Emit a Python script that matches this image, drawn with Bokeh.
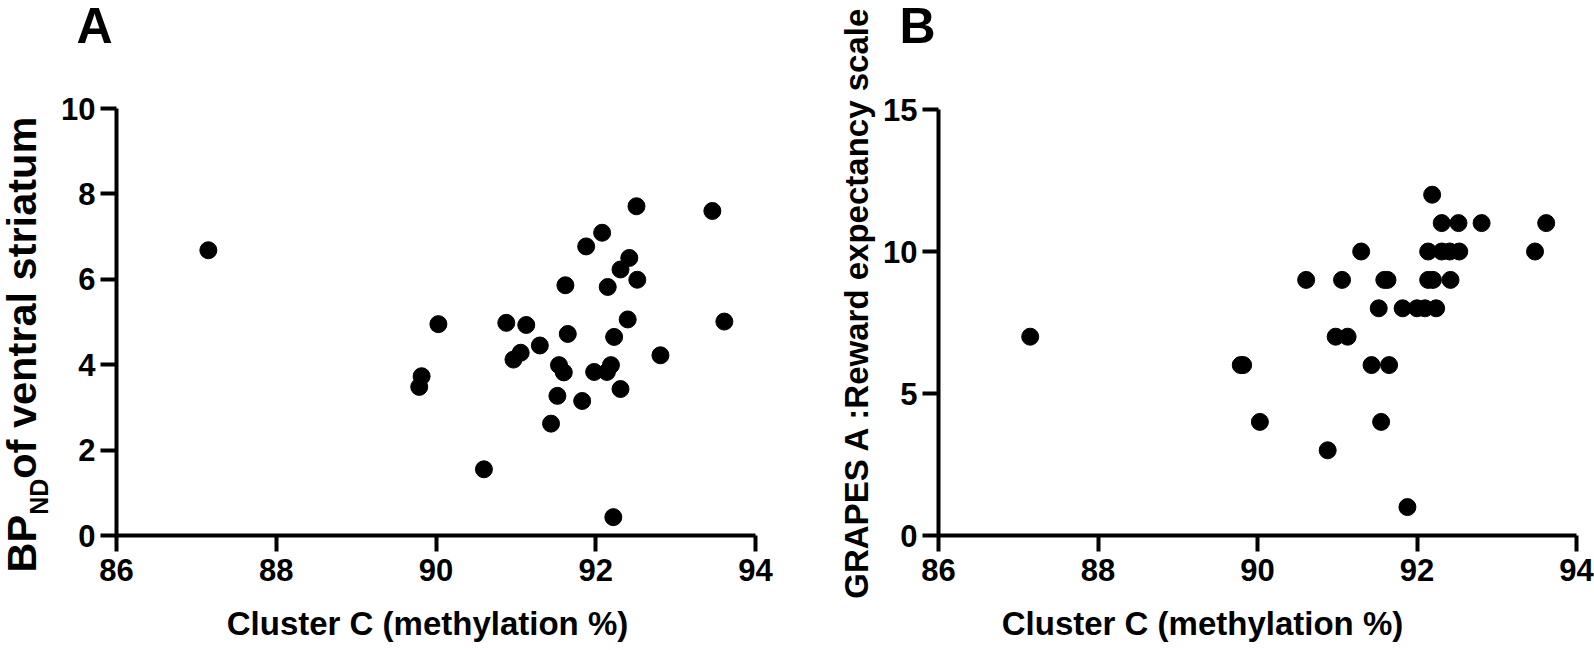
import math
from bokeh.plotting import figure
from bokeh.models import Range1d, Label, FixedTicker
from bokeh.layouts import row, column
from bokeh.embed import file_html
from bokeh.resources import INLINE

# ---------------- data ----------------
x_ticks = [86, 88, 90, 92, 94]
a_y_ticks = [0, 2, 4, 6, 8, 10]
b_y_ticks = [0, 5, 10, 15]

x_title = "Cluster C (methylation %)"
a_title_main = "BP"
a_title_sub = "ND"
a_title_rest = " of ventral striatum"
b_title = "GRAPES A :Reward expectancy scale"

# Panel A: Cluster C methylation (%) vs BP_ND of ventral striatum
methyl_a = [87.15, 89.79, 89.82, 90.03, 90.60, 90.88, 90.97, 91.06, 91.13, 91.30,
            91.44, 91.52, 91.54, 91.60, 91.62, 91.65, 91.83, 91.88, 91.98, 92.08,
            92.14, 92.15, 92.19, 92.22, 92.23, 92.31, 92.31, 92.40, 92.42, 92.51,
            92.52, 92.81, 93.46, 93.61]
bp_nd = [6.68, 3.48, 3.73, 4.95, 1.55, 4.98, 4.12, 4.28, 4.93, 4.45,
         2.62, 3.27, 3.99, 3.82, 5.86, 4.72, 3.15, 6.77, 3.83, 7.09,
         3.83, 5.82, 3.99, 0.43, 4.65, 6.23, 3.43, 5.06, 6.50, 7.71,
         5.99, 4.22, 7.60, 5.01]

# Panel B: Cluster C methylation (%) vs GRAPES A reward expectancy scale
methyl_b = [87.15, 89.79, 89.82, 90.03, 90.61, 90.88, 90.98, 91.06, 91.13, 91.30,
            91.43, 91.52, 91.55, 91.59, 91.63, 91.65, 91.82, 91.88, 92.00, 92.10,
            92.14, 92.14, 92.19, 92.20, 92.24, 92.31, 92.31, 92.41, 92.42, 92.52,
            92.53, 92.81, 93.48, 93.62]
grapes_a = [7, 6, 6, 4, 9, 3, 7, 9, 7, 10,
            6, 8, 4, 9, 9, 6, 8, 1, 8, 8,
            10, 9, 12, 9, 8, 10, 11, 10, 9, 11,
            10, 11, 10, 11]

FONT = "Liberation Sans"
H = 650
SHIFT = 0.38  # empirical baseline offset of rendered labels (fraction of font size)


def text_fig(w, h):
    f = figure(width=w, height=h, x_range=Range1d(0, w), y_range=Range1d(0, h),
               x_axis_type=None, y_axis_type=None, output_backend="svg",
               toolbar_location=None, min_border=0, min_border_left=0,
               min_border_right=0, min_border_top=0, min_border_bottom=0,
               frame_align=False)
    f.outline_line_color = None
    f.background_fill_color = "white"
    f.border_fill_color = "white"
    return f


def lab(p, text, x, y, size, angle=0.0, align="left"):
    # compensate the renderer's baseline offset so that (x, y) is the baseline point
    if angle == 0.0:
        y = y + SHIFT * size
    else:
        x = x - SHIFT * size
    p.add_layout(Label(x=x, y=y, text=text, text_font=FONT, text_font_style="bold",
                       text_font_size=f"{size}px", text_color="black", angle=angle,
                       text_align=align, text_baseline="alphabetic"))


def main_fig(width, left, right, top, bottom, ymax, yticks):
    p = figure(width=width, height=532, x_range=Range1d(86, 94), y_range=Range1d(0, ymax),
               output_backend="svg", toolbar_location=None,
               min_border_left=left, min_border_right=right,
               min_border_top=top, min_border_bottom=bottom, frame_align=False)
    p.grid.visible = False
    p.outline_line_color = None
    p.background_fill_color = "white"
    p.border_fill_color = "white"
    for ax in (p.xaxis[0], p.yaxis[0]):
        ax.axis_line_width = 4
        ax.axis_line_color = "black"
        ax.major_tick_line_width = 4
        ax.major_tick_line_color = "black"
        ax.major_tick_in = 0
        ax.major_tick_out = 16
        ax.minor_tick_line_color = None
        ax.major_label_text_font = FONT
        ax.major_label_text_font_style = "bold"
        ax.major_label_text_font_size = "31px"
        ax.major_label_text_color = "black"
    p.xaxis[0].major_label_standoff = 7
    p.yaxis[0].major_label_standoff = 5
    p.xaxis[0].ticker = FixedTicker(ticks=x_ticks)
    p.yaxis[0].ticker = FixedTicker(ticks=yticks)
    return p


# ---------------- panel A ----------------
yt_a = text_fig(58, H)
F, S = 41.5, 25
y0 = 78
lab(yt_a, a_title_main, 37, y0, F, angle=math.pi / 2)
lab(yt_a, a_title_sub, 48, y0 + 1.389 * F, S, angle=math.pi / 2)
lab(yt_a, a_title_rest, 37, y0 + 1.389 * F + 1.444 * S, F, angle=math.pi / 2)

top_a = text_fig(770, 58)
lab(top_a, "A", 18, 14, 50)

pa = main_fig(770, 57, 73, 50, 55, 10, a_y_ticks)
pa.scatter(methyl_a, bp_nd, size=17, color="black")

bot_a = text_fig(770, 60)
lab(bot_a, x_title, 369, 14, 33, align="center")

# ---------------- panel B ----------------
yt_b = text_fig(52, H)
lab(yt_b, b_title, 41, 348, 33, angle=math.pi / 2, align="center")

top_b = text_fig(714, 58)
lab(top_b, "B", 19, 14, 50)

pb = main_fig(714, 57, 18, 51, 55, 15, b_y_ticks)
pb.scatter(methyl_b, grapes_a, size=17, color="black")

bot_b = text_fig(714, 60)
lab(bot_b, x_title, 322, 14, 33, align="center")

layout = row(yt_a, column(top_a, pa, bot_a), yt_b, column(top_b, pb, bot_b))
open("out.html", "w").write(file_html(layout, INLINE))
